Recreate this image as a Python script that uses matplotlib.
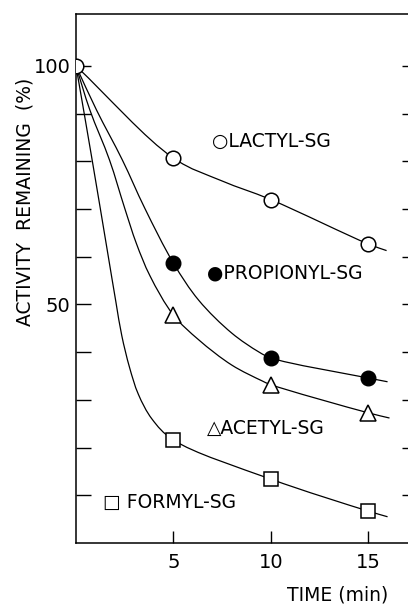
import matplotlib
matplotlib.use("Agg")
import matplotlib.pyplot as plt
import numpy as np
from matplotlib.path import Path
from matplotlib.patches import PathPatch

# measured points (time in min, activity remaining in %)
t_lactyl = [0, 5, 10, 15]
y_lactyl = [100, 80.7, 72, 62.7]
t_other = [5, 10, 15]
y_propionyl = [58.7, 38.8, 34.6]
y_acetyl = [47.8, 33.2, 27.3]
y_formyl = [21.6, 13.4, 6.7]

# hand-drawn guide curves
c_lactyl_t = [0, 5, 7.5, 10, 15, 15.95]
c_lactyl_y = [100, 80.7, 75.9, 72, 62.7, 61.3]
c_propionyl_t = [0, 1.05, 2.38, 3.53, 5, 6.3, 8.0, 9.37, 10, 15, 16.0]
c_propionyl_y = [100, 90.8, 80.3, 70.2, 58.7, 50.9, 44.0, 40.1, 38.8, 34.6, 33.8]
c_acetyl_t = [0, 0.71, 1.72, 2.5, 3.1, 3.8, 5, 6.3, 8.0, 9.55, 10, 15, 16.1]
c_acetyl_y = [100, 90.8, 80.3, 70.2, 62.8, 56, 47.8, 42.6, 37.3, 34.0, 33.2, 27.3, 26.2]
c_formyl_t = [0, 0.8, 1.6, 2.05, 2.35, 2.75, 3.2, 3.9, 5, 10, 15, 16.0]
c_formyl_y = [100, 81, 61.5, 50.5, 43.5, 36.8, 31.2, 26, 21.6, 13.4, 6.7, 5.5]

x_ticks = [5, 10, 15]
y_ticks = [10, 20, 30, 40, 50, 60, 70, 80, 90, 100]
y_labels = {50: "50", 100: "100"}

fig = plt.figure(figsize=(4.08, 6.08), dpi=100)
ax = fig.add_axes([76 / 408, 65 / 608, 332 / 408, 529 / 608])
ax.set_xlim(0, 17.05)
ax.set_ylim(0, 110.9)


def smooth_curve(ax, tx, ty, **kw):
    # centripetal Catmull-Rom through the traced points, drawn as a Bezier path
    P = ax.transData.transform(np.column_stack([tx, ty]))
    n = len(P)
    verts = [P[0]]
    codes = [Path.MOVETO]
    for i in range(n - 1):
        p0 = P[i - 1] if i > 0 else 2 * P[i] - P[i + 1]
        p1, p2 = P[i], P[i + 1]
        p3 = P[i + 2] if i + 2 < n else 2 * P[i + 1] - P[i]
        d1 = np.linalg.norm(p1 - p0) ** 0.5
        d2 = np.linalg.norm(p2 - p1) ** 0.5
        d3 = np.linalg.norm(p3 - p2) ** 0.5
        m1 = (p1 - p0) / d1 - (p2 - p0) / (d1 + d2) + (p2 - p1) / d2
        m2 = (p2 - p1) / d2 - (p3 - p1) / (d2 + d3) + (p3 - p2) / d3
        m1 *= d2
        m2 *= d2
        verts += [p1 + m1 / 3, p2 - m2 / 3, p2]
        codes += [Path.CURVE4] * 3
    verts = ax.transData.inverted().transform(np.array(verts))
    ax.add_patch(PathPatch(Path(verts, codes), fill=False, **kw))


lw = 0.9
for ct, cy in [(c_lactyl_t, c_lactyl_y), (c_propionyl_t, c_propionyl_y),
               (c_acetyl_t, c_acetyl_y), (c_formyl_t, c_formyl_y)]:
    smooth_curve(ax, ct, cy, edgecolor="black", lw=lw, zorder=2)

ax.plot(t_lactyl, y_lactyl, "o", ms=10.5, mfc="white", mec="black", mew=1.1, zorder=3)
ax.plot(t_other, y_propionyl, "o", ms=10.5, mfc="black", mec="black", zorder=3)
ax.plot(t_other, y_acetyl, "^", ms=12, mfc="white", mec="black", mew=1.1, zorder=3)
ax.plot(t_other, y_formyl, "s", ms=9.5, mfc="white", mec="black", mew=1.1, zorder=3)

fs = 13.5
ax.text(7.0, 84.1, "○LACTYL-SG", fontsize=fs, va="center", ha="left")
ax.text(6.75, 56.6, "●PROPIONYL-SG", fontsize=fs, va="center", ha="left")
ax.text(6.75, 24.1, "△ACETYL-SG", fontsize=fs, va="center", ha="left")
ax.text(1.4, 8.4, "□ FORMYL-SG", fontsize=fs, va="center", ha="left")

ax.spines["right"].set_visible(False)
for s in ["left", "bottom", "top"]:
    ax.spines[s].set_linewidth(1.1)

ax.set_xticks(x_ticks)
ax.set_xticklabels([str(v) for v in x_ticks], fontsize=14)
ax.set_yticks(y_ticks)
ax.set_yticklabels([y_labels.get(v, "") for v in y_ticks], fontsize=14)
ax.tick_params(axis="x", direction="in", length=9, width=1, pad=7, top=False)
ax.tick_params(axis="y", direction="in", length=11, width=1, pad=4, right=False)

# short inward ticks on the right edge, no labels
ax_r = ax.secondary_yaxis("right")
ax_r.set_yticks(y_ticks)
ax_r.set_yticklabels([])
ax_r.tick_params(direction="in", length=4, width=1)
ax_r.spines["right"].set_visible(False)

fig.text(25 / 408, 1 - 202 / 608, "ACTIVITY  REMAINING  (%)", rotation=90,
         fontsize=13.5, ha="center", va="center")
fig.text(388 / 408, 1 - 595 / 608, "TIME (min)", fontsize=13.5, ha="right", va="center")

fig.savefig("out.png", dpi=100)
